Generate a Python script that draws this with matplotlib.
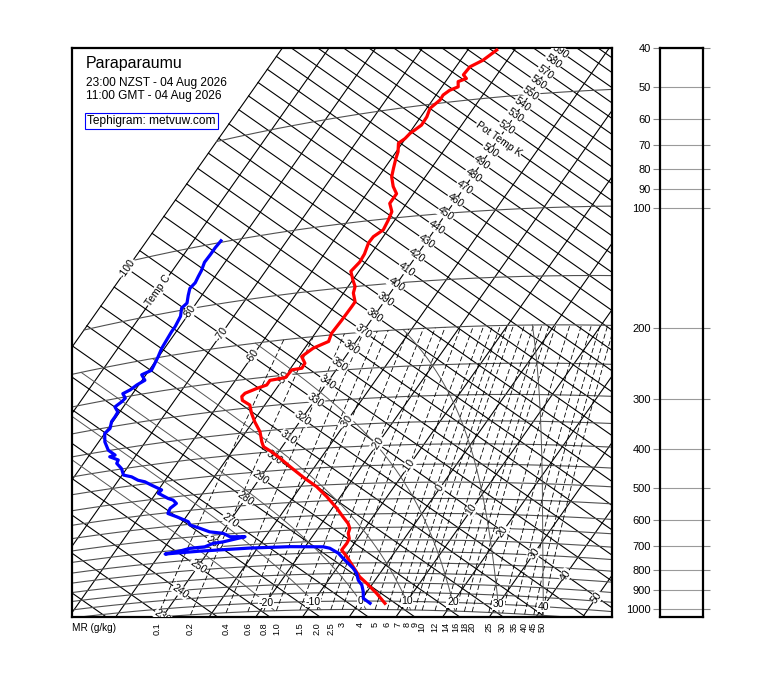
import numpy as np
import matplotlib
matplotlib.use('Agg')
import matplotlib.pyplot as plt
from matplotlib.ticker import NullLocator

plt.rcParams['font.family'] = ['Liberation Sans', 'DejaVu Sans']

station = 'Paraparaumu'
time_local = '23:00 NZST - 04 Aug 2026'
time_utc = '11:00 GMT - 04 Aug 2026'
credit = 'Tephigram: metvuw.com'

# sounding (hPa, deg C)
temp_p = [1013, 956, 902, 868, 818, 770, 740, 712, 692, 671, 652, 633, 608, 577,
          537, 504, 473, 442, 418, 400, 386, 374, 351, 329, 311, 295, 285, 278,
          273, 267, 263, 256, 254, 243, 242, 235, 225, 215, 208, 198, 184, 170,
          165, 156, 150, 144, 136, 129, 123, 115, 111, 107, 101, 96, 91, 86, 82,
          77, 73, 69, 66, 62.5, 61, 59.2, 58.2, 56.7, 54, 51.3, 49, 47.6, 46.4,
          45.7, 44.2, 43.6, 42.5, 40.6, 39.3, 37.2]
temp_t = [5.6, 2.3, -1.3, -3.8, -6.7, -9.6, -11.7, -11.6, -11.8, -12.8, -13.2, -14.3,
          -16.4, -19.0, -22.9, -26.6, -31.0, -35.3, -38.7, -41.5, -44.0, -45.1, -47.0,
          -49.6, -51.6, -53.2, -55.5, -56.2, -56.0, -54.2, -52.6, -52.6, -49.7, -49.5,
          -47.6, -47.7, -49.4, -48.2, -45.9, -46.5, -46.3, -46.2, -46.2, -47.9, -48.5,
          -49.9, -51.7, -51.2, -51.4, -52.2, -52.1, -51.0, -51.4, -51.9, -53.6, -53.6,
          -55.4, -57.2, -58.1, -59.0, -59.6, -60.8, -60.1, -59.8, -59.3, -58.6, -58.7,
          -59.3, -58.4, -58.5, -57.8, -56.5, -57.3, -56.0, -57.2, -57.0, -55.2, -53.8]

dew_p = [1013, 984, 947, 911, 885, 850, 825, 801, 778, 754, 731, 724, 718, 715, 713,
         712, 705, 697, 696, 684, 681, 674, 666, 662, 646, 636, 619, 603, 590, 568,
         553, 536, 522, 510, 503, 483, 474, 456, 444, 437, 425, 417, 399, 384, 376,
         365, 363, 349, 329, 311, 303, 290, 282, 274, 264, 257, 252, 244, 240, 234,
         229, 220, 216, 207, 199, 189, 180, 171, 166, 156, 148, 144, 137, 131, 127,
         122, 118, 112, 107, 103, 99]
dew_t = [2.4, 0.2, -0.8, -2.1, -3.6, -5.0, -6.5, -8.3, -10.1, -11.9, -14.5, -16.1,
         -23.3, -31.7, -41.9, -48.9, -46.2, -44.4, -41.5, -40.2, -38.3, -36.5, -34.4,
         -37.6, -39.6, -42.7, -45.3, -47.9, -48.8, -52.0, -54.4, -54.7, -54.1, -55.3,
         -56.6, -59.5, -59.3, -62.2, -64.1, -65.8, -67.7, -69.7, -71.1, -72.9, -73.1,
         -75.4, -74.5, -76.7, -78.7, -80.0, -79.6, -80.3, -80.3, -80.4, -81.8, -81.1,
         -80.9, -82.1, -81.1, -80.4, -79.4, -80.9, -79.5, -79.8, -80.1, -80.6, -80.8,
         -81.0, -81.0, -81.4, -82.4, -82.0, -82.9, -83.6, -83.3, -83.6, -83.8, -84.4,
         -84.3, -84.3, -84.1]

isotherms = np.arange(-100, 51, 10)
isentropes = np.arange(200, 651, 10)
isobars = np.arange(50, 1051, 50)
mix_ratios = [0.1, 0.2, 0.4, 0.6, 0.8, 1.0, 1.5, 2.0, 2.5, 3, 4, 5, 6, 7, 8, 9, 10,
              12, 14, 16, 18, 20, 25, 30, 35, 40, 45, 50]
mix_labels = ['0.1', '0.2', '0.4', '0.6', '0.8', '1.0', '1.5', '2.0', '2.5', '3', '4',
              '5', '6', '7', '8', '9', '10', '12', '14', '16', '18', '20', '25', '30',
              '35', '40', '45', '50']
wet_bulb = [-20, -10, 0, 10, 20, 30, 40]
theta_labels = np.arange(230, 591, 10)
temp_labels = np.arange(-100, 51, 10)
p_ticks = [40, 50, 60, 70, 80, 90, 100, 200, 300, 400, 500, 600, 700, 800, 900, 1000]

# tephigram geometry in screen units; T=-40C / theta=330K is the anchor
X0, Y0 = 315.0, 400.0
KX, KY = 3.13, 2.19      # per kelvin along an isentrope
LX, LY = 422.0, -600.0   # per unit ln(theta) along an isotherm
KAPPA = 0.286
TMIN = -100.0


def to_xy(t, theta):
    t = np.asarray(t, float)
    lt = np.log(np.asarray(theta, float) / 330.0)
    return X0 + KX * (t + 40) + LX * lt, Y0 + KY * (t + 40) + LY * lt


def theta_of(t, p):
    return (np.asarray(t, float) + 273.15) * (1000.0 / np.asarray(p, float)) ** KAPPA


def sat_temp(w, p):
    e = (w / 1000.0) * p / (0.622 + w / 1000.0)
    a = np.log(e / 6.112)
    return 243.5 * a / (17.67 - a)


def moist_path(tw, pres):
    def slope(T, p):
        tc = T - 273.15
        es = 6.112 * np.exp(17.67 * tc / (tc + 243.5))
        rs = 0.622 * es / (p - es)
        return (287.04 * T + 2.501e6 * rs) / (
            p * (1005.7 + 2.501e6 ** 2 * rs * 0.622 / (287.04 * T * T)))
    T = tw + 273.15
    out = [T]
    for p0, p1 in zip(pres[:-1], pres[1:]):
        dp = p1 - p0
        k1 = slope(T, p0)
        k2 = slope(T + dp * k1, p1)
        T = T + 0.5 * dp * (k1 + k2)
        out.append(T)
    return np.array(out) - 273.15


fig = plt.figure(figsize=(7.6, 6.9), dpi=100)
ax = fig.add_axes([72 / 760, 73 / 690, 540 / 760, 569 / 690])
ax.set_xlim(72, 612)
ax.set_ylim(617, 48)
ax.set_xticks([])
ax.set_yticks([])
for s in ax.spines.values():
    s.set_linewidth(1.6)

# isotherms
th = np.linspace(150, 800, 300)
for t in isotherms:
    x, y = to_xy(np.full_like(th, t), th)
    ax.plot(x, y, color='black', lw=0.8, zorder=2)

# dry adiabats
tt = np.linspace(TMIN, 80, 200)
for q in isentropes:
    x, y = to_xy(tt, np.full_like(tt, q))
    ax.plot(x, y, color='black', lw=0.8, zorder=2)

# isobars
for p in isobars:
    x, y = to_xy(tt, theta_of(tt, p))
    ax.plot(x, y, color='#505050', lw=0.8, zorder=2)

# mixing ratio lines
pp = np.linspace(1050, 200, 120)
for w in mix_ratios:
    t = sat_temp(w, pp)
    x, y = to_xy(t, theta_of(t, pp))
    ax.plot(x, y, color='black', lw=0.6, ls=(0, (6, 3)), zorder=2)

# saturated adiabats
p_up = np.linspace(1000, 200, 401)
p_dn = np.linspace(1000, 1050, 26)
for tw in wet_bulb:
    t = np.concatenate([moist_path(tw, p_dn)[::-1], moist_path(tw, p_up)[1:]])
    p = np.concatenate([p_dn[::-1], p_up[1:]])
    x, y = to_xy(t, theta_of(t, p))
    ax.plot(x, y, color='#555555', lw=0.7, zorder=2)

rot_iso = np.degrees(np.arctan2(-LY, LX))
rot_ise = np.degrees(np.arctan2(-KY, KX))
lbl = dict(fontsize=7.5, ha='center', va='center', rotation_mode='anchor',
           bbox=dict(fc='white', ec='none', pad=0.4), zorder=4, clip_on=True)

for q in theta_labels:
    x, y = to_xy(-40, q)
    ax.text(x, y, 'Pot Temp K' if q == 510 else str(q), rotation=rot_ise, **lbl)

for t in temp_labels:
    if t == -40:
        continue
    x, y = to_xy(t, 330)
    ax.text(x, y, 'Temp C' if t == -90 else str(t), rotation=rot_iso, **lbl)

for tw in wet_bulb:
    x, y = to_xy(tw, theta_of(tw, 1000))
    ax.text(x, y, str(tw), **lbl)

for w, s in zip(mix_ratios, mix_labels):
    t = sat_temp(w, 1050)
    x, _ = to_xy(t, theta_of(t, 1050))
    ax.text(x, 622, s, rotation=90, ha='center', va='top', fontsize=6.6, clip_on=False)
ax.text(72, 623, 'MR (g/kg)', ha='left', va='top', fontsize=7.2, clip_on=False)

# sounding
x, y = to_xy(temp_t, theta_of(temp_t, temp_p))
ax.plot(x, y, color='#ff0000', lw=2.3, zorder=6)
x, y = to_xy(dew_t, theta_of(dew_t, dew_p))
ax.plot(x, y, color='#0000ff', lw=2.3, zorder=6)

ax.text(86, 68, station, fontsize=11.5, va='baseline', zorder=7)
ax.text(86, 86, time_local, fontsize=8.6, va='baseline', zorder=7)
ax.text(86, 99, time_utc, fontsize=8.6, va='baseline', zorder=7)
ax.text(87, 124, credit, fontsize=8.6, va='baseline', zorder=7,
        bbox=dict(boxstyle='square,pad=0.2', fc='white', ec='blue', lw=0.8))

# pressure panel
axr = fig.add_axes([660 / 760, 73 / 690, 43 / 760, 569 / 690])
axr.set_yscale('log')
axr.set_ylim(1050, 40)
axr.set_yticks(p_ticks)
axr.set_yticklabels([str(p) for p in p_ticks])
axr.yaxis.set_minor_locator(NullLocator())
axr.set_xticks([])
axr.yaxis.grid(True, color='#9a9a9a', lw=0.8)
axr.tick_params(axis='y', which='major', direction='out', length=5, width=0.8,
                color='#888888', labelsize=8, right=True, pad=1.5)
for s in axr.spines.values():
    s.set_linewidth(1.6)

fig.savefig('out.png', dpi=100)
